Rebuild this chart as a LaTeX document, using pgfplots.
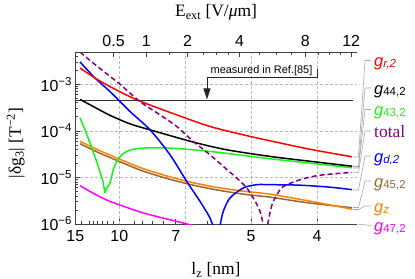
\documentclass[border=0pt]{standalone}
\usepackage{fontspec}
\setmainfont{Liberation Sans}
\newfontfamily\seriffont{Liberation Serif}
\usepackage{pgfplots}
\pgfplotsset{compat=1.18}
\usetikzlibrary{arrows.meta}
\definecolor{mpurple}{rgb}{0.5,0,0.5}
\definecolor{mgreen}{rgb}{0.1,0.95,0.1}
\definecolor{mbrown}{rgb}{0.6,0.4,0.2}
\definecolor{morange}{rgb}{1,0.5,0}
\definecolor{mmagenta}{rgb}{1,0,1}
\newcommand{\supm}[1]{\raisebox{6bp}{\fontsize{11.5}{11.5}\selectfont #1}}
\newcommand{\subg}[1]{\raisebox{-1bp}{\fontsize{11.5}{11.5}\selectfont #1}}
\pgfplotsset{every tick label/.append style={font=\fontsize{16}{16}\selectfont}}
\begin{document}
\begin{tikzpicture}
\begin{axis}[at={(0,0)}, anchor=south west, scale only axis,
  width=282bp, height=171.7bp,
  xmin=0.0664, xmax=0.2803, ymin=1e-6, ymax=4.844e-3, ymode=log,
  axis line style={black!75, line width=0.6bp},
  tick style={black!75, line width=0.6bp},
  tick align=inside, major tick length=5bp, minor tick length=3bp,
  axis x line*=bottom, axis y line*=left,
  xtick={0.0666667,0.1,0.142857,0.2,0.25}, xticklabels={15,10,7,5,4},
  minor xtick={0.0714286,0.0769231,0.08,0.0833333,0.0869565,0.0909091,0.0952381,0.111111,0.117647,0.125,0.133333,0.166667},
  xticklabel style={yshift=-3bp},
  ytick={1e-6,1e-5,1e-4,1e-3},
  yticklabels={10\supm{−6},10\supm{−5},10\supm{−4},10\supm{−3}},
  minor ytick={2e-6,3e-6,4e-6,5e-6,6e-6,7e-6,8e-6,9e-6,2e-5,3e-5,4e-5,5e-5,6e-5,7e-5,8e-5,9e-5,2e-4,3e-4,4e-4,5e-4,6e-4,7e-4,8e-4,9e-4,2e-3,3e-3,4e-3},
  ymajorgrids=true,
  grid style={gray!55, line width=0.5bp, dash pattern=on 3bp off 2bp},
  extra x ticks={0.1,0.15,0.2,0.25}, extra x tick labels={},
  extra x tick style={xmajorgrids=true, major tick length=0pt},
]
% measured value
\addplot[black!80, line width=0.7bp] coordinates {(0.0664,4.61e-4) (0.2773,4.61e-4)};
% g47,2
\addplot[mmagenta, line width=1.5bp, smooth] coordinates {(0.07018,6.64e-6) (0.08156,4.37e-6) (0.09294,3.06e-6) (0.11821,1.73e-6) (0.14355,1.14e-6) (0.15873,8.93e-7) (0.18399,6.55e-7) (0.22193,4.6e-7) (0.27656,3.1e-7)};
% g45,2
\addplot[mbrown, line width=1.5bp, smooth] coordinates {(0.07018,5.27e-5) (0.08536,3.30e-5) (0.10053,2.17e-5) (0.11821,1.36e-5) (0.14355,8.30e-6) (0.16882,5.73e-6) (0.19408,4.37e-6) (0.21434,3.77e-6) (0.24469,2.81e-6) (0.27656,2.24e-6)};
% gz
\addplot[morange, line width=1.5bp, smooth] coordinates {(0.07018,5.96e-5) (0.08536,3.73e-5) (0.10053,2.45e-5) (0.11821,1.54e-5) (0.14355,9.38e-6) (0.16882,6.48e-6) (0.19408,5.06e-6) (0.21434,4.37e-6) (0.24469,3.09e-6) (0.27656,2.08e-6)};
% g43,2
\addplot[mgreen, line width=1.5bp] coordinates {(0.07018,1.90e-4) (0.07397,1.05e-4) (0.07777,5.53e-5) (0.08156,2.77e-5) (0.08536,1.32e-5) (0.08763,8.09e-6) (0.08915,4.70e-6)};
\addplot[mgreen, line width=1.5bp, smooth] coordinates {(0.08915,4.70e-6) (0.09067,6.0e-6) (0.09294,7.59e-6) (0.09545,1.46e-5) (0.09803,2.20e-5) (0.10182,3.06e-5) (0.10812,3.86e-5) (0.11821,4.26e-5) (0.13847,4.26e-5) (0.16882,3.61e-5) (0.19408,2.96e-5) (0.21434,2.51e-5) (0.24469,2.02e-5) (0.27656,1.61e-5)};
% g44,2
\addplot[black, line width=1.5bp, smooth] coordinates {(0.07018,4.73e-4) (0.08156,3.18e-4) (0.09294,2.15e-4) (0.10812,1.41e-4) (0.12329,1.05e-4) (0.15615,5.73e-5) (0.18149,3.92e-5) (0.21434,2.82e-5) (0.24469,2.22e-5) (0.27656,1.74e-5)};
% gd,2
\addplot[blue, line width=1.5bp, smooth] coordinates {(0.07018,3.01e-3) (0.08156,1.36e-3) (0.09294,6.95e-4) (0.10819,2.59e-4) (0.12329,1.05e-4) (0.13847,3.06e-5) (0.15114,8.20e-6) (0.16123,3.06e-6) (0.16882,1.35e-6) (0.17132,8.94e-7) (0.17382,3e-7)};
\addplot[blue, line width=1.5bp, smooth] coordinates {(0.1740,3e-7) (0.1764,8.94e-7) (0.1789,1.87e-6) (0.18399,3.62e-6) (0.19408,5.93e-6) (0.20425,6.98e-6) (0.21434,6.98e-6) (0.2371,6.81e-6) (0.25987,6.17e-6) (0.27656,5.46e-6)};
% gr,2
\addplot[red, line width=1.5bp, smooth] coordinates {(0.07018,2.23e-3) (0.08156,1.36e-3) (0.09294,8.9e-4) (0.11343,4.61e-4) (0.14355,2.20e-4) (0.16882,1.24e-4) (0.19408,8.20e-5) (0.21434,6.10e-5) (0.24469,4.02e-5) (0.27656,2.77e-5)};
% total
\addplot[mpurple, line width=1.5bp, dash pattern=on 5bp off 3bp, smooth] coordinates {(0.07018,4.92e-3) (0.07777,3.24e-3) (0.08536,2.18e-3) (0.09294,1.47e-3) (0.10053,1.0e-3) (0.11571,4.24e-4) (0.13088,2.20e-4) (0.14355,1.24e-4) (0.15615,5.90e-5) (0.16882,3.06e-5) (0.17891,1.72e-5) (0.18908,9.71e-6) (0.19666,5.93e-6) (0.20167,3.62e-6) (0.20676,1.87e-6) (0.20926,8.94e-7) (0.21093,3e-7)};
\addplot[mpurple, line width=1.5bp, dash pattern=on 5bp off 3bp, smooth] coordinates {(0.21093,3e-7) (0.21267,1.0e-6) (0.21586,2.60e-6) (0.21965,4.27e-6) (0.22420,6.32e-6) (0.23710,8.93e-6) (0.25000,1.09e-5) (0.26366,1.20e-5) (0.27656,1.28e-5)};
\end{axis}
\begin{axis}[at={(0,0)}, anchor=south west, scale only axis,
  width=282bp, height=171.7bp,
  xmin=0.0664, xmax=0.2803, ymin=1e-6, ymax=4.844e-3, ymode=log,
  axis line style={black!75, line width=0.6bp},
  tick style={black!75, line width=0.6bp},
  tick align=inside, major tick length=5bp, minor tick length=3bp,
  axis x line*=top, axis y line=none, ytick=\empty,
  xtick={0.095641,0.1205,0.151820,0.191282,0.241,0.275876},
  xticklabels={0.5,1,2,4,8,12},
  minor xtick={0.137938,0.163544,0.173791,0.182954,0.206053,0.218963,0.230508,0.25065,0.259609,0.26799},
  xticklabel style={yshift=2bp},
]
\addplot[draw=none] coordinates {(0.1,1e-4)};
\end{axis}
\begin{scope}[x=1bp,y=-1bp,shift={(-75bp,224bp)}]
  \node[anchor=base, inner sep=0pt, font=\seriffont\fontsize{17.5}{17.5}\selectfont] at (216,16.7) {E\textsubscript{ext} [V/\textit{μ}m]};
  \node[anchor=base, inner sep=0pt, font=\seriffont\fontsize{17.5}{17.5}\selectfont] at (216,274.5) {l\textsubscript{z} [nm]};
  \node[anchor=base, rotate=90, inner sep=0pt, font=\seriffont\fontsize{17.5}{17.5}\selectfont] at (21,143) {|δg\textsubscript{3}| [T\textsuperscript{−2}]};
  \node[anchor=base, inner sep=0pt, font=\fontsize{11}{11}\selectfont] at (261.5,74) {measured in Ref.[85]};
  \draw[black!85, line width=0.6bp, -{Triangle[width=7bp,length=11bp]}] (317,69.5) -- (317,77) -- (207,77) -- (207,99.5);
  \begin{scope}[gray!70, line width=0.6bp]
    \draw (353,157) -- (358.5,157) -- (365,60.5) -- (371,60.5);
    \draw (353,166.5) -- (358.5,166.5) -- (365,88) -- (371,88);
    \draw (353,168) -- (358.5,168) -- (365,109.5) -- (371,109.5);
    \draw (353,172.7) -- (358.5,172.7) -- (365,131) -- (371,131);
    \draw (353,190) -- (358.5,190) -- (365,156) -- (371,156);
    \draw (353,207.5) -- (358.5,207.5) -- (365,181) -- (371,181);
    \draw (353,209.5) -- (358.5,209.5) -- (365,206) -- (371,206);
    \draw (357,224) -- (371,225.5);
  \end{scope}
  \begin{scope}[every node/.style={anchor=base west, inner sep=0pt, font=\fontsize{16.5}{16.5}\selectfont}]
    \node[text=red] at (374,67) {\textit{g}\subg{\textit{r,2}}};
    \node[text=black] at (374,94.5) {\textit{g}\subg{44,2}};
    \node[text=mgreen] at (374,116) {\textit{g}\subg{43,2}};
    \node[text=mpurple, font=\seriffont\fontsize{17.5}{17.5}\selectfont] at (374,138) {total};
    \node[text=blue] at (374,162.5) {\textit{g}\subg{\textit{d,2}}};
    \node[text=mbrown] at (374,187.5) {\textit{g}\subg{45,2}};
    \node[text=morange] at (374,212.5) {\textit{g}\subg{\textit{z}}};
    \node[text=mmagenta] at (374,232) {\textit{g}\subg{47,2}};
  \end{scope}
\end{scope}
\pgfresetboundingbox
\path (-75bp,-55bp) rectangle (340bp,224bp);
\end{tikzpicture}
\end{document}
